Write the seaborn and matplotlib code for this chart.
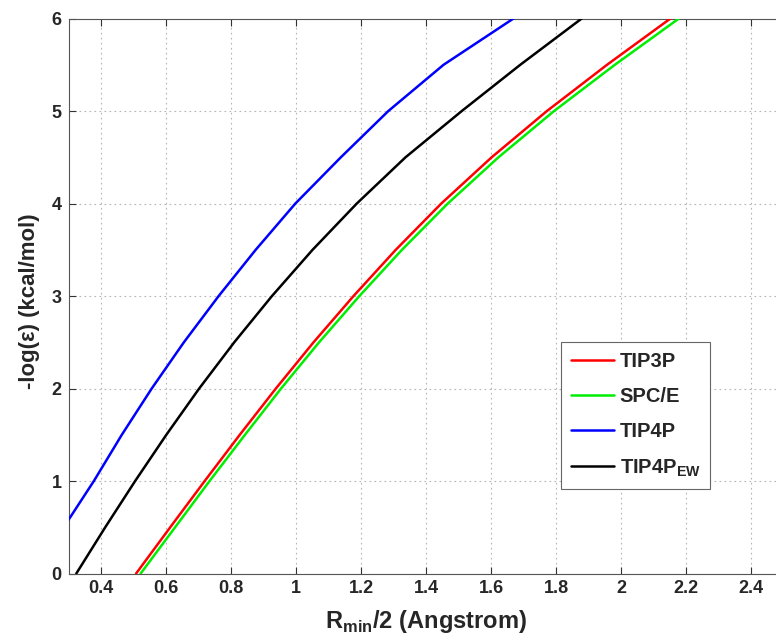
import numpy as np
import pandas as pd
import matplotlib
matplotlib.use("Agg")
import matplotlib.pyplot as plt
import seaborn as sns

sns.set_style("ticks")
plt.rcParams['font.family'] = ['Liberation Sans', 'DejaVu Sans']
plt.rcParams['font.weight'] = 'bold'
plt.rcParams['mathtext.fontset'] = 'custom'
plt.rcParams['mathtext.bf'] = 'Liberation Sans:bold'
plt.rcParams['mathtext.rm'] = 'Liberation Sans:bold'

# -log(eps) levels and the Rmin/2 at those levels
y_levels = [0, 0.5, 1, 1.5, 2, 2.5, 3, 3.5, 4, 4.5, 5, 5.5, 6]
x_tip3p = [0.508, 0.613, 0.719, 0.827, 0.938, 1.054, 1.177, 1.307, 1.447, 1.602, 1.772, 1.957, 2.152]
x_spce = [0.522, 0.628, 0.734, 0.843, 0.954, 1.071, 1.195, 1.326, 1.467, 1.623, 1.794, 1.981, 2.178]
x_tip4pew = [0.324, 0.413, 0.505, 0.601, 0.702, 0.810, 0.926, 1.051, 1.187, 1.337, 1.510, 1.690, 1.879]
# TIP4P starts at the left axis edge
y_tip4p = [0.58, 1, 1.5, 2, 2.5, 3, 3.5, 4, 4.5, 5, 5.5, 6]
x_tip4p = [0.300, 0.378, 0.464, 0.556, 0.655, 0.762, 0.876, 0.998, 1.138, 1.284, 1.454, 1.669]

labels = ['TIP3P', 'SPC/E', 'TIP4P', r'TIP4P$_{\mathbf{EW}}$']
colors = ['#ff0000', '#00ee00', '#0000ff', '#000000']

df = pd.concat([
    pd.DataFrame({'model': labels[0], 'r': x_tip3p, 'e': y_levels}),
    pd.DataFrame({'model': labels[1], 'r': x_spce, 'e': y_levels}),
    pd.DataFrame({'model': labels[2], 'r': x_tip4p, 'e': y_tip4p}),
    pd.DataFrame({'model': labels[3], 'r': x_tip4pew, 'e': y_levels}),
])

fig = plt.figure(figsize=(7.76, 6.39), dpi=100)
ax = fig.add_axes([0.0883, 0.1025, 0.9214, 0.8685])

for lab, col in zip(labels, colors):
    sub = df[df['model'] == lab]
    sns.lineplot(x='r', y='e', data=sub, ax=ax, color=col, lw=1.8,
                 label=lab, sort=False, estimator=None,
                 zorder=4 if lab == 'TIP3P' else 3)

ax.set_xlim(0.3, 2.5)
ax.set_ylim(0, 6)
ax.set_xticks(np.arange(0.4, 2.41, 0.2))
ax.set_xticklabels(['0.4', '0.6', '0.8', '1', '1.2', '1.4', '1.6', '1.8', '2', '2.2', '2.4'])
ax.set_yticks(range(0, 7))
ax.grid(True, color='#b5b5b5', linestyle=(0, (1.5, 3)), lw=0.8)
ax.tick_params(direction='in', top=True, right=True, length=5, labelsize=13, pad=5, color='#333333')
for s in ax.spines.values():
    s.set_color('#555555')
    s.set_linewidth(0.8)

ax.set_xlabel(r'R$_{\mathbf{min}}$/2 (Angstrom)', fontsize=17, fontweight='bold')
ax.set_ylabel('-log(ε) (kcal/mol)', fontsize=16, fontweight='bold')
ax.xaxis.set_label_coords(0.5, -0.062)
ax.yaxis.set_label_coords(-0.04, 0.49)

leg = ax.legend(loc='upper left', bbox_to_anchor=(0.689, 0.417), borderaxespad=0,
                fancybox=False, edgecolor='#666666', framealpha=1, fontsize=14.5,
                handlelength=2.1, handletextpad=0.3, labelspacing=0.8,
                borderpad=0.5)
leg.get_frame().set_linewidth(0.8)

fig.savefig('out.png', dpi=100)
